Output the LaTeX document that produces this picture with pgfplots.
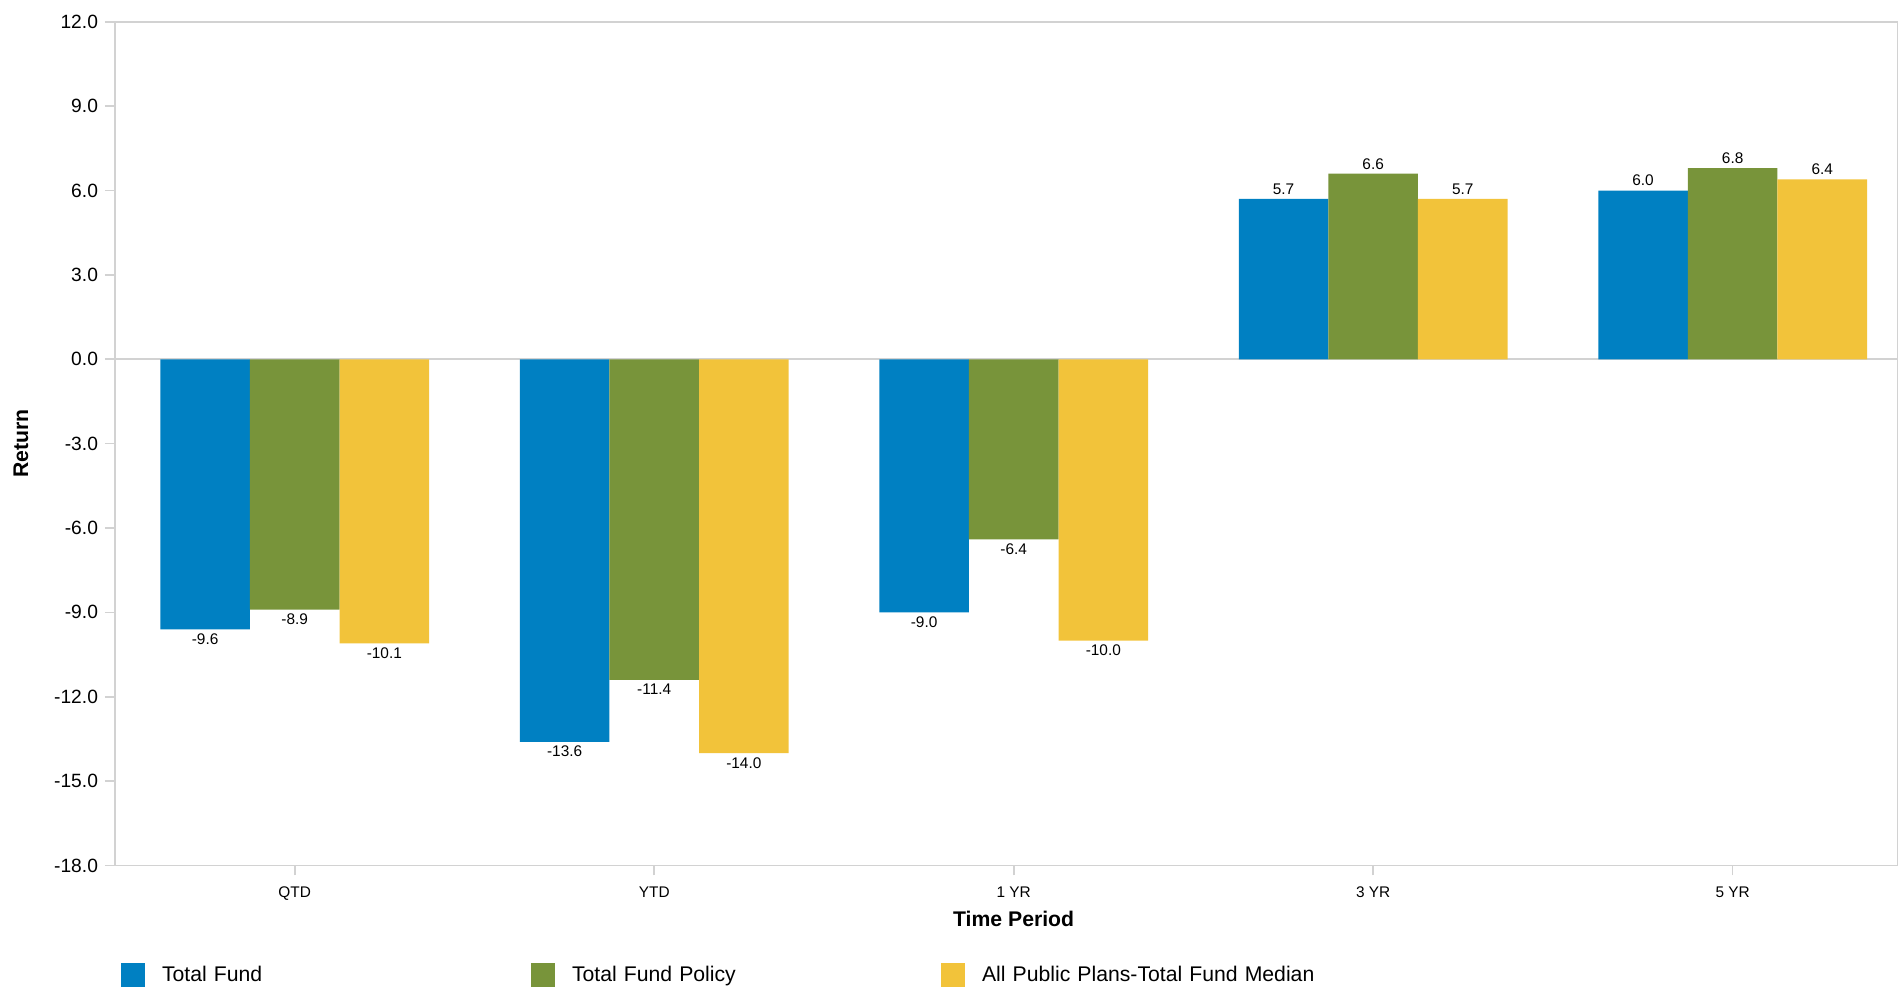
\documentclass[border=0pt]{standalone}
\usepackage{pgfplots}
\pgfplotsset{compat=1.18}
\usepackage{fontspec}
\setmainfont{Liberation Sans}
\definecolor{tfblue}{RGB}{0,128,194}
\definecolor{tfgreen}{RGB}{120,148,58}
\definecolor{tfyellow}{RGB}{242,195,58}
\definecolor{axgray}{RGB}{210,210,210}
\begin{document}
\begin{tikzpicture}
\begin{axis}[
  name=ax,
  scale only axis,
  width=891.5pt, height=421.85pt,
  ybar=0pt, bar width=44.8pt,
  xmin=-0.5, xmax=4.46,
  ymin=-18, ymax=12,
  ytick={-18,-15,...,12},
  xtick=data,
  xtick pos=bottom, ytick pos=left,
  xticklabels={QTD,YTD,1 YR,3 YR,5 YR},
  /pgf/number format/assume math mode=true,
  yticklabel={\pgfmathprintnumber[fixed,fixed zerofill,precision=1]{\tick}},
  yticklabel style={font=\fontsize{9.6}{11}\selectfont, text=black},
  xticklabel style={font=\fontsize{7.7}{9}\selectfont, text=black, yshift=-2pt},
  tick align=outside,
  major tick length=5pt,
  tick style={axgray, line width=0.8pt},
  axis line style={axgray, line width=0.8pt},
  extra y ticks={0},
  extra y tick labels={},
  extra y tick style={grid=major, major grid style={axgray, line width=0.8pt}, major tick length=0pt},
  xlabel={Time Period},
  ylabel={Return},
  xlabel style={font=\bfseries\fontsize{10.6}{12}\selectfont, at={(axis description cs:0.504,-0.0634)}, anchor=center},
  ylabel style={font=\bfseries\fontsize{10.6}{12}\selectfont, at={(axis description cs:-0.0527,0.5)}, anchor=center},
  point meta=y,
  nodes near coords={\pgfmathprintnumber[fixed,fixed zerofill,precision=1]{\pgfplotspointmeta}},
  nodes near coords align=vertical,
  every node near coord/.append style={font=\fontsize{7.7}{9}\selectfont, text=black, inner sep=2pt},
  legend columns=3,
  legend image code/.code={\fill[#1] (0pt,-6pt) rectangle (12pt,6pt);},
  legend style={at={(0.0034,-0.1298)}, anchor=west, draw=none, inner sep=0pt, outer sep=0pt,
    font=\fontsize{10.6}{12}\selectfont,
    nodes={text width=170pt, align=left, inner sep=3.5pt},
    /tikz/every odd column/.append style={column sep=5pt},
    /tikz/every even column/.append style={column sep=11pt}},
]
\addplot[fill=tfblue, draw=none] coordinates {(0,-9.6) (1,-13.6) (2,-9.0) (3,5.7) (4,6.0)};
\addplot[fill=tfgreen, draw=none] coordinates {(0,-8.9) (1,-11.4) (2,-6.4) (3,6.6) (4,6.8)};
\addplot[fill=tfyellow, draw=none] coordinates {(0,-10.1) (1,-14.0) (2,-10.0) (3,5.7) (4,6.4)};
\legend{Total Fund, Total Fund Policy, All Public Plans-Total Fund Median}
\end{axis}
\pgfresetboundingbox
\useasboundingbox ([shift={(-57.5pt,-61.25pt)}]ax.south west) rectangle ([shift={(0pt,10.9pt)}]ax.north east);
\end{tikzpicture}
\end{document}
